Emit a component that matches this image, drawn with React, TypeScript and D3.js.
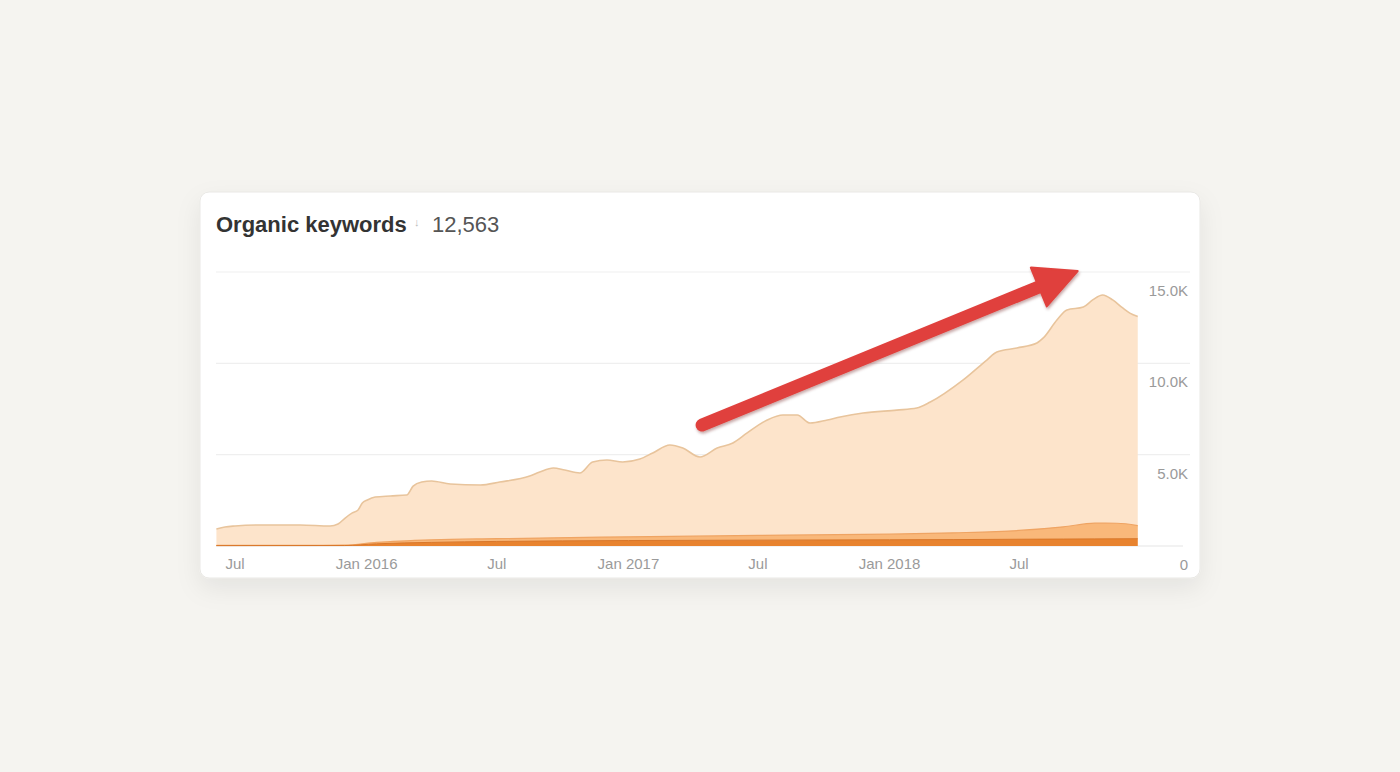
import React from 'react';
import * as d3 from 'd3';

// ---- data ----
const title = 'Organic keywords';
const currentValue = '12,563';

const totalDates = [
  '2015-06-05','2015-06-17','2015-07-01','2015-08-05','2015-09-30','2015-11-11','2015-11-22','2015-12-02',
  '2015-12-12','2015-12-20','2015-12-26','2016-01-02','2016-01-13','2016-02-03','2016-02-26','2016-03-06',
  '2016-03-18','2016-04-01','2016-04-27','2016-06-08','2016-07-05','2016-08-16','2016-08-30','2016-09-18',
  '2016-10-04','2016-10-25','2016-11-12','2016-12-02','2016-12-24','2017-01-17','2017-02-04','2017-02-28',
  '2017-03-18','2017-04-11','2017-05-05','2017-05-27','2017-06-16','2017-07-14','2017-08-05','2017-08-25',
  '2017-09-12','2017-10-06','2017-10-24','2017-11-25','2018-01-11','2018-02-08','2018-02-27','2018-04-14',
  '2018-05-17','2018-05-31','2018-06-28','2018-07-26','2018-08-04','2018-08-23','2018-09-06','2018-09-29',
  '2018-10-12','2018-10-26','2018-11-09','2018-11-23','2018-12-03','2018-12-14',
];
const totalKeywords = [
  930, 1040, 1095, 1150, 1150, 1095, 1200, 1530,
  1810, 1970, 2350, 2520, 2680, 2740, 2790, 3280,
  3500, 3560, 3390, 3340, 3500, 3830, 4050, 4270,
  4160, 4000, 4600, 4710, 4600, 4760, 5090, 5530,
  5360, 4870, 5360, 5640, 6190, 6900, 7170, 7170,
  6730, 6900, 7060, 7280, 7440, 7550, 7880, 9090,
  10180, 10620, 10840, 11110, 11390, 12370, 12920, 13080,
  13470, 13740, 13470, 13030, 12750, 12563,
];

const bandDates = [
  '2015-06-05','2015-12-01','2016-01-15','2016-04-01','2016-07-01','2017-01-01','2017-07-01',
  '2018-01-01','2018-04-01','2018-07-01','2018-09-01','2018-10-15','2018-11-15','2018-12-14',
];
const top3 = [20, 25, 120, 200, 250, 300, 320, 340, 350, 370, 380, 390, 395, 400];
const top4to10 = [15, 20, 80, 140, 150, 200, 260, 310, 370, 480, 670, 860, 850, 720];

const yTicks = [0, 5000, 10000, 15000];
const yTickLabels = ['0', '5.0K', '10.0K', '15.0K'];
const xTickDates = ['2015-07-01','2016-01-01','2016-07-01','2017-01-01','2017-07-01','2018-01-01','2018-07-01'];
const xTickLabels = ['Jul','Jan 2016','Jul','Jan 2017','Jul','Jan 2018','Jul'];

const arrowFrom = { date: '2017-04-14', value: 6620 };
const arrowTo = { date: '2018-09-21', value: 15050 };

const FONT = '"Liberation Sans", Arial, Helvetica, sans-serif';

export default function App() {
  const W = 1400, H = 772;
  const card = { x: 200, y: 192, w: 1000, h: 386 };
  const plot = { left: 216, right: 1190 };

  const parse = d3.timeParse('%Y-%m-%d');
  const x = d3.scaleTime()
    .domain([parse('2015-07-01')!, parse('2018-07-01')!])
    .range([235, 1019]);
  const y = d3.scaleLinear().domain([0, 15000]).range([546, 272]);

  const totalData = totalDates.map((d, i) => ({ date: parse(d)!, value: totalKeywords[i] }));
  const bandData = bandDates.map((d, i) => ({ date: parse(d)!, top3: top3[i], top4to10: top4to10[i] }));
  const stack = d3.stack<any>().keys(['top3', 'top4to10']);
  const stacked = stack(bandData);

  const curve = d3.curveMonotoneX;
  const totalArea = d3.area<any>().x(d => x(d.date)).y0(y(0)).y1(d => y(d.value)).curve(curve);
  const totalLine = d3.line<any>().x(d => x(d.date)).y(d => y(d.value)).curve(curve);
  const bandArea = d3.area<any>().x(d => x(d.data.date)).y0(d => y(d[0])).y1(d => y(d[1])).curve(curve);
  const bandLine = d3.line<any>().x(d => x(d.data.date)).y(d => y(d[1])).curve(curve);

  // arrow geometry from data-space endpoints
  const ax0 = x(parse(arrowFrom.date)!), ay0 = y(arrowFrom.value);
  const ax1 = x(parse(arrowTo.date)!), ay1 = y(arrowTo.value);
  const dx = ax1 - ax0, dy = ay1 - ay0;
  const len = Math.sqrt(dx * dx + dy * dy);
  const ux = dx / len, uy = dy / len;
  const headLen = 42, headHalf = 21;
  const bx = ax1 - ux * headLen, by = ay1 - uy * headLen;
  const px = -uy, py = ux;
  const head = `M${ax1},${ay1} L${bx + px * headHalf},${by + py * headHalf} L${bx - px * headHalf},${by - py * headHalf} Z`;

  return (
    <div style={{ position: 'fixed', left: 0, top: 0, width: W, height: H, background: '#f5f4f0' }}>
      <svg width={W} height={H} style={{ display: 'block' }}>
        <defs>
          <filter id="cardShadow" x="-10%" y="-20%" width="120%" height="150%">
            <feDropShadow dx="0" dy="10" stdDeviation="12" floodColor="#000" floodOpacity="0.07" />
          </filter>
          <filter id="arrowShadow" x="-10%" y="-20%" width="120%" height="150%">
            <feDropShadow dx="1" dy="2" stdDeviation="1.8" floodColor="#5a1010" floodOpacity="0.35" />
          </filter>
          <clipPath id="plotClip">
            <rect x={plot.left} y={250} width={plot.right - plot.left} height={297} />
          </clipPath>
        </defs>
        <rect x={0} y={0} width={W} height={H} fill="#f5f4f0" />
        <rect x={card.x} y={card.y} width={card.w} height={card.h} rx={9} fill="#ffffff"
          stroke="#e9e8e5" strokeWidth={1} filter="url(#cardShadow)" />

        <text x={216} y={232} fontFamily={FONT} fontSize={22} fontWeight="bold" fill="#333">{title}</text>
        <text x={414} y={226} fontFamily={FONT} fontSize={11} fill="#bbb">↓</text>
        <text x={432} y={232} fontFamily={FONT} fontSize={22} fill="#555">{currentValue}</text>

        {yTicks.map((t, i) => (
          <g key={t}>
            <line x1={plot.left} x2={i === 0 ? 1183 : plot.right} y1={y(t)} y2={y(t)}
              stroke={i === 0 ? '#e6e6e6' : '#efefef'} strokeWidth={1.2} />
            <text x={1188} y={y(t) + 24} textAnchor="end" fontFamily={FONT} fontSize={15} fill="#9a9a9a">
              {yTickLabels[i]}
            </text>
          </g>
        ))}

        <g clipPath="url(#plotClip)">
          <path d={totalArea(totalData) || ''} fill="#fde4cb" />
          <path d={totalLine(totalData) || ''} fill="none" stroke="#e8c49c" strokeWidth={1.6} />
          <path d={bandArea(stacked[1] as any) || ''} fill="#f9b87a" />
          <path d={bandLine(stacked[1] as any) || ''} fill="none" stroke="#efa463" strokeWidth={1.2} />
          <path d={bandArea(stacked[0] as any) || ''} fill="#e8832f" />
          <path d={bandLine(stacked[0] as any) || ''} fill="none" stroke="#d9772a" strokeWidth={1} />
        </g>

        {xTickDates.map((d, i) => (
          <text key={d + i} x={x(parse(d)!)} y={569} textAnchor="middle" fontFamily={FONT} fontSize={15} fill="#9a9a9a">
            {xTickLabels[i]}
          </text>
        ))}

        <g filter="url(#arrowShadow)">
          <line x1={ax0} y1={ay0} x2={bx + ux * 2} y2={by + uy * 2} stroke="#e0403c" strokeWidth={13} strokeLinecap="round" />
          <path d={head} fill="#e0403c" stroke="#e0403c" strokeWidth={2} strokeLinejoin="round" />
        </g>
      </svg>
    </div>
  );
}
